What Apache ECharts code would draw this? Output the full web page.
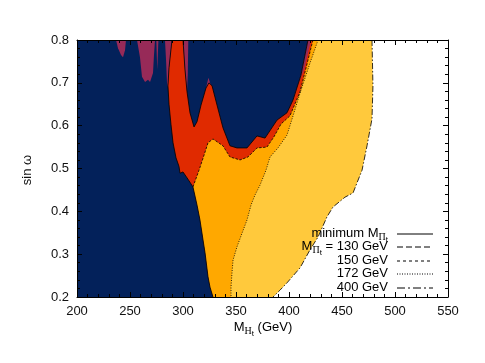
<!DOCTYPE html>
<html>
<head>
<meta charset="utf-8">
<script src="https://cdn.jsdelivr.net/npm/echarts@6/dist/echarts.min.js"></script>
<style>
  html, body { margin: 0; padding: 0; background: #fff; }
  #chart { width: 485px; height: 363px; }
</style>
</head>
<body>
<div id="chart"></div>
<script>
// axis ranges
const xTicks = [200, 250, 300, 350, 400, 450, 500, 550]
const yTicks = [0.2, 0.3, 0.4, 0.5, 0.6, 0.7, 0.8]

// 400 GeV boundary (dash-dot), top to bottom
const c400X = [478.3, 479.2, 478.3, 473.6, 468.9, 460.4, 452.8, 441.5, 435.8, 427.4, 419.8, 410.4, 398.1, 391.5, 384.9]
const c400Y = [0.800, 0.693, 0.616, 0.553, 0.496, 0.443, 0.433, 0.410, 0.387, 0.340, 0.310, 0.268, 0.233, 0.216, 0.200]

// 172 GeV boundary (dotted)
const c172X = [427.4, 419.8, 410.4, 404.7, 398.1, 389.6, 382.1, 378.3, 372.6, 367.9, 364.2, 360.4, 355.7, 350.9, 347.2, 346.2, 345.3, 345.3]
const c172Y = [0.800, 0.746, 0.676, 0.630, 0.578, 0.548, 0.527, 0.496, 0.461, 0.438, 0.415, 0.380, 0.349, 0.317, 0.286, 0.256, 0.223, 0.200]

// 130 GeV boundary (dashed), red / orange edge
const c130X = [422.6, 417.9, 410.4, 400.9, 392.5, 385.8, 379.2, 369.8, 361.3, 353.8, 344.3, 337.7, 328.3, 323.6, 318.9, 315.1, 309.4]
const c130Y = [0.800, 0.753, 0.679, 0.623, 0.604, 0.574, 0.550, 0.548, 0.527, 0.520, 0.527, 0.553, 0.569, 0.560, 0.524, 0.496, 0.457]

// minimum mass boundary, left part (solid)
const minLeftX = [289.6, 286.8, 285.8, 286.8, 288.7, 290.6, 293.4, 296.2, 297.2, 300.0, 304.7, 309.4, 313.2, 316.0, 318.9, 320.8, 323.6, 325.5, 328.3]
const minLeftY = [0.800, 0.735, 0.693, 0.650, 0.602, 0.560, 0.525, 0.505, 0.489, 0.492, 0.475, 0.457, 0.415, 0.380, 0.333, 0.303, 0.247, 0.223, 0.200]

// minimum mass boundary, upper pocket (solid)
const minTopX = [300.0, 301.9, 303.8, 306.6, 310.4, 313.2, 317.0, 321.7, 324.5, 327.4, 332.1, 337.7, 344.3, 350.9, 360.4, 369.8, 377.4, 388.7, 398.1, 403.8, 411.3, 417.9]
const minTopY = [0.800, 0.730, 0.679, 0.630, 0.597, 0.609, 0.648, 0.688, 0.700, 0.693, 0.648, 0.595, 0.553, 0.548, 0.548, 0.576, 0.571, 0.613, 0.630, 0.660, 0.718, 0.800]

// purple patches
const pur1X = [236.8, 238.7, 241.5, 243.4, 245.3, 246.2]
const pur1Y = [0.800, 0.781, 0.765, 0.760, 0.776, 0.800]
const pur2X = [256.6, 259.4, 261.3, 264.2, 267.0, 268.9, 271.7, 272.6, 273.6]
const pur2Y = [0.800, 0.760, 0.714, 0.702, 0.707, 0.702, 0.723, 0.763, 0.800]
const pur3X = [274.8, 275.7, 276.8]
const pur3Y = [0.800, 0.730, 0.800]
const pur4X = [283.0, 284.0, 284.9, 285.8, 286.8, 289.6]
const pur4Y = [0.800, 0.753, 0.700, 0.690, 0.735, 0.800]
const pur5X = [300.0, 305.0, 304.5, 303.8, 301.9]
const pur5Y = [0.800, 0.800, 0.720, 0.679, 0.730]
const pur6X = [321.7, 324.0, 326.4, 324.5]
const pur6Y = [0.688, 0.712, 0.693, 0.700]
const pur7X = [417.9, 420.8, 414.0, 406.0, 403.8, 411.3]
const pur7Y = [0.800, 0.800, 0.730, 0.680, 0.660, 0.718]

// legend
const legendLabels = [
  '{n|minimum M}{p|Π}{t|t}',
  '{n|M}{p|Π}{t|t}{n| = 130 GeV}',
  '{n|150 GeV}',
  '{n|172 GeV}',
  '{n|400 GeV}'
]
const legendDash = [null, [6, 3], [3, 3], [1, 1.5], [8, 3, 2, 3]]

const colors = {
  navy: '#03215a',
  red: '#e02a00',
  orange: '#ffa800',
  yellow: '#ffc93c',
  purple: '#972a58'
}
const font = "'Liberation Sans', Arial, sans-serif"

let z = 2
function area(xs, ys, color) {
  return {
    type: 'custom',
    coordinateSystem: 'cartesian2d',
    silent: true,
    clip: true,
    z: z++,
    data: [[xs[0], ys[0]]],
    renderItem: (params, api) => ({
      type: 'polygon',
      shape: { points: xs.map((x, i) => api.coord([x, ys[i]])) },
      style: { fill: color }
    })
  }
}

function edge(xs, ys, dash) {
  return {
    type: 'custom',
    coordinateSystem: 'cartesian2d',
    silent: true,
    clip: true,
    z: z++,
    data: [[xs[0], ys[0]]],
    renderItem: (params, api) => ({
      type: 'polyline',
      shape: { points: xs.map((x, i) => api.coord([x, ys[i]])) },
      style: { stroke: '#000', fill: null, lineWidth: 0.8, lineDash: dash }
    })
  }
}

// closed regions to the left of a boundary
const xMin = xTicks[0], yMin = yTicks[0], yMax = yTicks[yTicks.length - 1]
const leftOf = (xs, ys) => [[xMin, ...xs, xMin], [yMax, ...ys, yMin]]

const [yelX, yelY] = leftOf(c400X, c400Y)
const [oraX, oraY] = leftOf(c172X, c172Y)
const [redX, redY] = leftOf([...c130X, ...minLeftX.slice(12)], [...c130Y, ...minLeftY.slice(12)])
const [navX, navY] = leftOf(minLeftX, minLeftY)

const series = [
  area(yelX, yelY, colors.yellow),
  area(oraX, oraY, colors.orange),
  area(redX, redY, colors.red),
  area(navX, navY, colors.navy),
  area(minTopX, minTopY, colors.navy),
  area(pur1X, pur1Y, colors.purple),
  area(pur2X, pur2Y, colors.purple),
  area(pur3X, pur3Y, colors.purple),
  area(pur4X, pur4Y, colors.purple),
  area(pur5X, pur5Y, colors.purple),
  area(pur6X, pur6Y, colors.purple),
  area(pur7X, pur7Y, colors.purple),
  edge(minLeftX, minLeftY, null),
  edge(minTopX, minTopY, null),
  edge(c130X, c130Y, [2.5, 1.5]),
  edge(c172X, c172Y, [1, 1.5]),
  edge(c400X, c400Y, [6, 2, 1.5, 2])
]

const richText = {
  n: { fontSize: 13, fontFamily: font, lineHeight: 14, color: '#111' },
  p: { fontSize: 10, fontFamily: "'Liberation Serif', serif", lineHeight: 10, padding: [8, 0, 0, 0], color: '#111' },
  t: { fontSize: 8, fontFamily: font, lineHeight: 8, padding: [14, 0, 0, 0], color: '#111' }
}

function axisCommon(show) {
  return {
    type: 'value',
    z: 30,
    axisLine: { show: true, onZero: false, lineStyle: { color: '#000', width: 1 } },
    axisTick: { show: true, inside: true, length: 5, lineStyle: { color: '#000' } },
    minorTick: { show: true, splitNumber: 5, length: 3, lineStyle: { color: '#000' } },
    splitLine: { show: false },
    axisLabel: { show, fontSize: 13, fontFamily: font, color: '#111', showMinLabel: true, showMaxLabel: true }
  }
}

const legendRowY = [233, 246, 260, 273, 287]
const graphic = []
legendRowY.forEach((y, i) => {
  graphic.push({
    type: 'text', x: 388, y, z: 100,
    style: { text: legendLabels[i], rich: richText, align: 'right', textAlign: 'right', verticalAlign: 'middle', textVerticalAlign: 'middle' }
  })
  graphic.push({
    type: 'line', z: 100,
    shape: { x1: 397, y1: y + 1, x2: 433, y2: y + 1 },
    style: { stroke: '#000', lineWidth: 1, lineDash: legendDash[i] }
  })
})
graphic.push({
  type: 'text', x: 263, y: 327, z: 100,
  style: { text: '{n|M}{p|H}{t|t}{n| (GeV)}', rich: richText, align: 'center', textAlign: 'center', verticalAlign: 'middle', textVerticalAlign: 'middle' }
})
graphic.push({
  type: 'text', x: 27, y: 170, rotation: Math.PI / 2, z: 100,
  style: { text: 'sin ω', fontSize: 13, fontFamily: font, fill: '#111', align: 'center', textAlign: 'center', verticalAlign: 'middle', textVerticalAlign: 'middle' }
})

const chart = echarts.init(document.getElementById('chart'), null, { renderer: 'canvas' })
chart.setOption({
  animation: false,
  backgroundColor: '#fff',
  grid: { left: 77, right: 37, top: 40, bottom: 66, containLabel: false, outerBoundsMode: 'none' },
  xAxis: [
    { ...axisCommon(true), position: 'bottom', min: xTicks[0], max: xTicks[xTicks.length - 1], interval: 50,
      axisLabel: { ...axisCommon(true).axisLabel, margin: 8 } },
    { ...axisCommon(false), position: 'top', min: xTicks[0], max: xTicks[xTicks.length - 1], interval: 50 }
  ],
  yAxis: [
    { ...axisCommon(true), position: 'left', min: yMin, max: yMax, interval: 0.1,
      axisLabel: { ...axisCommon(true).axisLabel, margin: 8, formatter: v => v.toFixed(1) } },
    { ...axisCommon(false), position: 'right', min: yMin, max: yMax, interval: 0.1 }
  ],
  series,
  graphic
})
</script>
</body>
</html>
